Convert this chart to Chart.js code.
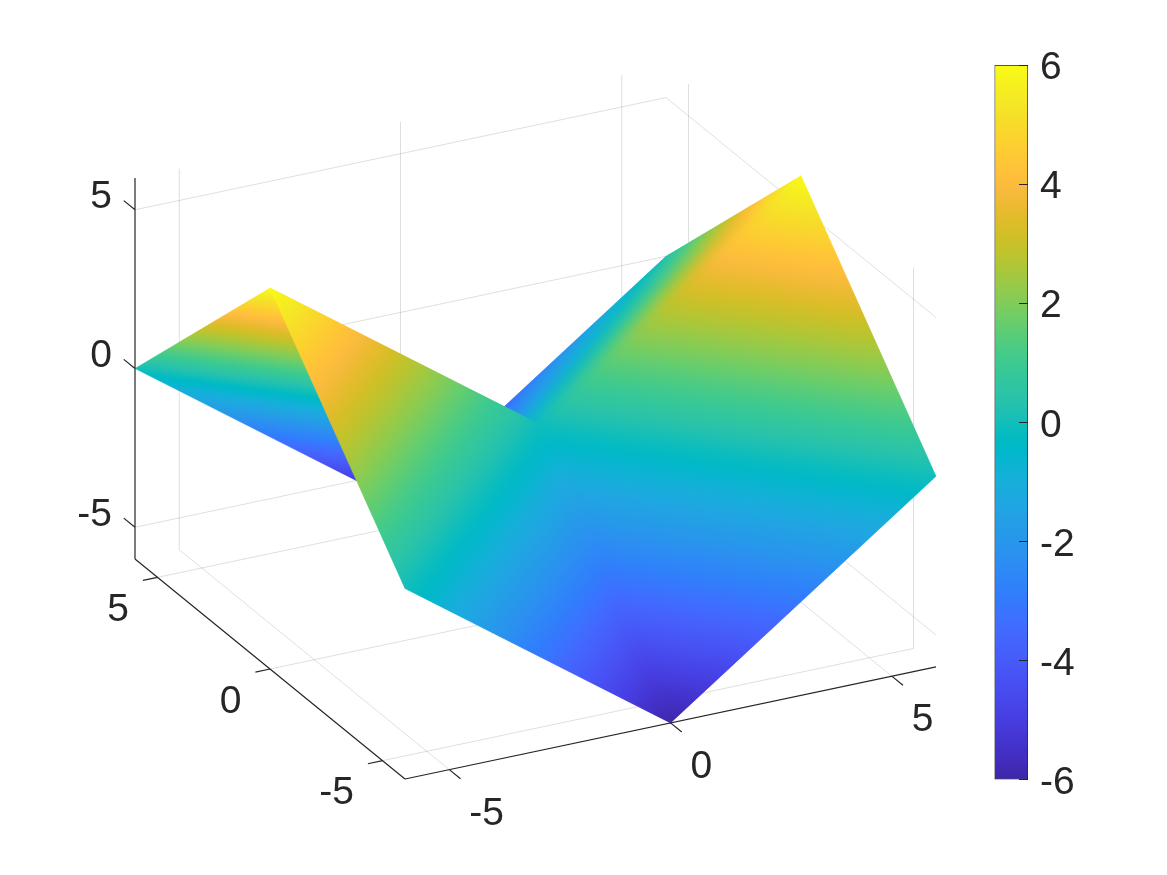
<!DOCTYPE html>
<html>
<head>
<meta charset="utf-8">
<title>Surface</title>
<script src="https://cdn.jsdelivr.net/npm/chart.js@4/dist/chart.umd.js"></script>
<style>
  html, body { margin: 0; padding: 0; background: #fff; }
  #wrap { position: relative; width: 1167px; height: 875px; overflow: hidden; }
  canvas { position: absolute; top: 0; }
  #surface { left: 0; }
  #colorbar { left: 960px; }
</style>
</head>
<body>
<div id="wrap">
  <canvas id="surface" width="1167" height="875"></canvas>
  <canvas id="colorbar" width="207" height="875"></canvas>
</div>
<script>
// surface samples
const gridX = [-6, 0, 6];
const gridY = [-6, 0, 6];
const surfaceZ = [
  [0, -6, 0],
  [6, 0, 6],
  [0, -6, 0],
];

// axes
const axisMin = -6;
const axisMax = 6;
const axisTicks = [-5, 0, 5];
const axisTickLabels = ["-5", "0", "5"];
const colorTicks = [-6, -4, -2, 0, 2, 4, 6];

// MATLAB parula, 64 steps
const parula = [
  [0.2422,0.1504,0.6603],[0.2504,0.1650,0.7076],[0.2578,0.1818,0.7511],[0.2647,0.1978,0.7952],
  [0.2706,0.2147,0.8364],[0.2751,0.2342,0.8710],[0.2783,0.2559,0.8991],[0.2803,0.2782,0.9221],
  [0.2813,0.3006,0.9414],[0.2810,0.3228,0.9579],[0.2795,0.3447,0.9717],[0.2760,0.3667,0.9829],
  [0.2699,0.3892,0.9906],[0.2602,0.4123,0.9952],[0.2440,0.4358,0.9988],[0.2206,0.4603,0.9973],
  [0.1963,0.4847,0.9892],[0.1834,0.5074,0.9798],[0.1786,0.5289,0.9682],[0.1764,0.5499,0.9520],
  [0.1687,0.5703,0.9359],[0.1540,0.5902,0.9218],[0.1460,0.6091,0.9079],[0.1380,0.6276,0.8973],
  [0.1248,0.6459,0.8883],[0.1113,0.6635,0.8763],[0.0952,0.6798,0.8598],[0.0689,0.6948,0.8394],
  [0.0297,0.7082,0.8163],[0.0036,0.7203,0.7917],[0.0067,0.7312,0.7660],[0.0433,0.7411,0.7394],
  [0.0964,0.7500,0.7120],[0.1408,0.7584,0.6842],[0.1717,0.7670,0.6554],[0.1938,0.7758,0.6251],
  [0.2161,0.7843,0.5923],[0.2470,0.7918,0.5567],[0.2906,0.7973,0.5188],[0.3406,0.8008,0.4789],
  [0.3909,0.8029,0.4354],[0.4456,0.8024,0.3909],[0.5044,0.7993,0.3480],[0.5616,0.7942,0.3045],
  [0.6174,0.7876,0.2612],[0.6720,0.7793,0.2227],[0.7242,0.7698,0.1910],[0.7738,0.7598,0.1646],
  [0.8203,0.7498,0.1535],[0.8634,0.7406,0.1596],[0.9035,0.7330,0.1774],[0.9393,0.7288,0.2100],
  [0.9728,0.7298,0.2394],[0.9956,0.7434,0.2371],[0.9970,0.7659,0.2199],[0.9952,0.7893,0.2028],
  [0.9892,0.8136,0.1885],[0.9786,0.8386,0.1766],[0.9676,0.8639,0.1643],[0.9610,0.8890,0.1537],
  [0.9597,0.9135,0.1423],[0.9628,0.9373,0.1265],[0.9691,0.9606,0.1064],[0.9769,0.9839,0.0805],
];

const axisColor = "#262626";
const gridColor = "rgba(38,38,38,0.15)";
const labelFont = '39px "Liberation Sans", Arial, sans-serif';

// the view: where the corner (-6,-6,-6) lands, and what one data unit adds on screen
const view = {
  ox: 405, oy: 779,
  xx: 44.25, xy: -9.35,
  yx: -22.5, yy: -18.33,
  zy: -31.75,
};

const project = (x, y, z) => ({
  x: view.ox + (x - axisMin) * view.xx + (y - axisMin) * view.yx,
  y: view.oy + (x - axisMin) * view.xy + (y - axisMin) * view.yy + (z - axisMin) * view.zy,
});

// line segments, split with a NaN so one dataset can hold many
const segments = (list) =>
  list.flatMap(([a, b]) => [project(...a), project(...b), { x: NaN, y: NaN }]);

const gridSegments = axisTicks.flatMap((t) => [
  // floor
  [[t, axisMin, axisMin], [t, axisMax, axisMin]],
  [[axisMin, t, axisMin], [axisMax, t, axisMin]],
  // back wall y = max
  [[t, axisMax, axisMin], [t, axisMax, axisMax]],
  [[axisMin, axisMax, t], [axisMax, axisMax, t]],
  // back wall x = max
  [[axisMax, t, axisMin], [axisMax, t, axisMax]],
  [[axisMax, axisMin, t], [axisMax, axisMax, t]],
]);

const axisSegments = [
  [[axisMin, axisMin, axisMin], [axisMax, axisMin, axisMin]],
  [[axisMin, axisMin, axisMin], [axisMin, axisMax, axisMin]],
  [[axisMin, axisMax, axisMin], [axisMin, axisMax, axisMax]],
  ...axisTicks.flatMap((t) => [
    [[t, axisMin, axisMin], [t, axisMin - 0.5, axisMin]],
    [[axisMin, t, axisMin], [axisMin - 0.33, t, axisMin]],
    [[axisMin, axisMax, t], [axisMin, axisMax + 0.5, t]],
  ]),
];

const surfacePoints = gridY.flatMap((y, j) =>
  gridX.map((x, i) => project(x, y, surfaceZ[j][i]))
);

const parulaCss = (c) =>
  `rgb(${Math.round(c[0] * 255)},${Math.round(c[1] * 255)},${Math.round(c[2] * 255)})`;

const addParulaStops = (gradient) => {
  parula.forEach((c, i) => gradient.addColorStop(i / (parula.length - 1), parulaCss(c)));
  return gradient;
};

// linear gradient that runs the colormap across a flat triangle
const planeGradient = (ctx, p, v) => {
  const ax = p[1].x - p[0].x, ay = p[1].y - p[0].y;
  const bx = p[2].x - p[0].x, by = p[2].y - p[0].y;
  const dv1 = v[1] - v[0], dv2 = v[2] - v[0];
  const det = ax * by - bx * ay;
  const gx = (dv1 * by - dv2 * ay) / det;
  const gy = (dv2 * ax - dv1 * bx) / det;
  const g2 = gx * gx + gy * gy;
  const s = (axisMin - v[0]) / g2;
  const e = (axisMax - v[0]) / g2;
  return addParulaStops(
    ctx.createLinearGradient(p[0].x + gx * s, p[0].y + gy * s, p[0].x + gx * e, p[0].y + gy * e)
  );
};

// creases that read soft in the picture: cell -> cells it is blended with
const softenBlur = 7;
const softCells = {
  "1,1": [[1, 1], [1, 0]],
  "1,0": [[1, 1], [1, 0], [0, 0]],
  "0,0": [[1, 0], [0, 0]],
};

const surfacePlugin = {
  id: "surface",
  afterDatasetDraw(chart, args) {
    if (args.meta.label !== "surface") return;
    const { ctx, scales, width, height } = chart;
    const corners = ([i, j]) => {
      const idx = [[i, j], [i + 1, j], [i + 1, j + 1], [i, j + 1]];
      const vals = idx.map(([a, b]) => surfaceZ[b][a]);
      const pts = idx.map(([a, b]) => {
        const p = project(gridX[a], gridY[b], surfaceZ[b][a]);
        return { x: scales.x.getPixelForValue(p.x), y: scales.y.getPixelForValue(p.y) };
      });
      return { pts, vals };
    };
    const tracePath = (c, pts) => {
      c.beginPath();
      pts.forEach((p, k) => (k ? c.lineTo(p.x, p.y) : c.moveTo(p.x, p.y)));
      c.closePath();
    };
    const paintCell = (c, cell) => {
      const { pts, vals } = corners(cell);
      const paint = planeGradient(c, pts, vals);
      tracePath(c, pts);
      c.fillStyle = paint;
      c.strokeStyle = paint;
      c.lineWidth = 0.5;
      c.lineJoin = "round";
      c.fill();
      c.stroke();
    };

    // far cells first, we look at the surface from the (-6,-6) corner
    const cells = [];
    for (let j = 0; j < gridY.length - 1; j++) {
      for (let i = 0; i < gridX.length - 1; i++) cells.push([i, j]);
    }
    cells.sort((a, b) => b[0] + b[1] - (a[0] + a[1]));

    const tmp = document.createElement("canvas");
    tmp.width = width;
    tmp.height = height;
    const tctx = tmp.getContext("2d");

    ctx.save();
    cells.forEach((cell) => {
      paintCell(ctx, cell);
      const blend = softCells[cell.join(",")];
      if (!blend) return;
      tctx.clearRect(0, 0, width, height);
      blend.forEach((other) => paintCell(tctx, other));
      ctx.save();
      tracePath(ctx, corners(cell).pts);
      ctx.clip();
      ctx.filter = `blur(${softenBlur}px)`;
      ctx.drawImage(tmp, 0, 0);
      ctx.restore();
    });
    ctx.restore();
  },
};

// tick labels of the 3D axes
const axisLabelPlugin = {
  id: "axisLabels",
  afterDraw(chart) {
    const { ctx, scales } = chart;
    const put = (text, p, dx, dy, align) => {
      ctx.textAlign = align;
      ctx.fillText(text, scales.x.getPixelForValue(p.x) + dx, scales.y.getPixelForValue(p.y) + dy);
    };
    ctx.save();
    ctx.font = labelFont;
    ctx.fillStyle = axisColor;
    ctx.textBaseline = "middle";
    axisTicks.forEach((t, i) => {
      put(axisTickLabels[i], project(t, axisMin, axisMin), 20, 44.5, "left");
      put(axisTickLabels[i], project(axisMin, t, axisMin), -28.5, 33, "right");
      put(axisTickLabels[i], project(axisMin, axisMax, t), -23, -12.5, "right");
    });
    ctx.restore();
  },
};

const lineDataset = (label, data, color, order, width) => ({
  label,
  data,
  order,
  showLine: true,
  spanGaps: false,
  borderColor: color,
  borderWidth: width,
  pointRadius: 0,
  pointHoverRadius: 0,
});

new Chart(document.getElementById("surface"), {
  type: "scatter",
  data: {
    datasets: [
      lineDataset("grid", segments(gridSegments), gridColor, 3, 1),
      { ...lineDataset("surface", surfacePoints, "rgba(0,0,0,0)", 2, 0), showLine: false },
      lineDataset("axes", segments(axisSegments), axisColor, 1, 1.2),
    ],
  },
  options: {
    responsive: false,
    animation: false,
    events: [],
    plugins: { legend: { display: false }, tooltip: { enabled: false } },
    scales: {
      x: { type: "linear", min: 0, max: 1167, display: false },
      y: { type: "linear", min: 0, max: 875, reverse: true, display: false },
    },
  },
  plugins: [surfacePlugin, axisLabelPlugin],
});

// colorbar: one floating bar over the whole color range
new Chart(document.getElementById("colorbar"), {
  type: "bar",
  data: {
    labels: ["colorbar"],
    datasets: [
      {
        data: [[axisMin, axisMax]],
        categoryPercentage: 1,
        barPercentage: 1,
        borderWidth: 1,
        borderColor: axisColor,
        borderSkipped: false,
        backgroundColor(context) {
          const area = context.chart.chartArea;
          if (!area) return "#000";
          return addParulaStops(context.chart.ctx.createLinearGradient(0, area.bottom, 0, area.top));
        },
      },
    ],
  },
  options: {
    responsive: false,
    animation: false,
    events: [],
    layout: { padding: { left: 34.5, top: 65, bottom: 95.5 } },
    plugins: { legend: { display: false }, tooltip: { enabled: false } },
    scales: {
      x: { display: false },
      y: {
        position: "right",
        min: axisMin,
        max: axisMax,
        afterFit(scale) { scale.width = 139; },
        afterBuildTicks(scale) { scale.ticks = colorTicks.map((value) => ({ value })); },
        border: { display: false },
        grid: { z: 1, drawOnChartArea: false, tickLength: -9, tickColor: axisColor, lineWidth: 1 },
        ticks: {
          z: 1,
          padding: 21,
          labelOffset: 3.5,
          color: axisColor,
          font: { family: '"Liberation Sans", Arial, sans-serif', size: 39 },
          autoSkip: false,
          maxRotation: 0,
          callback: (value) => String(value),
        },
      },
    },
  },
});
</script>
</body>
</html>
